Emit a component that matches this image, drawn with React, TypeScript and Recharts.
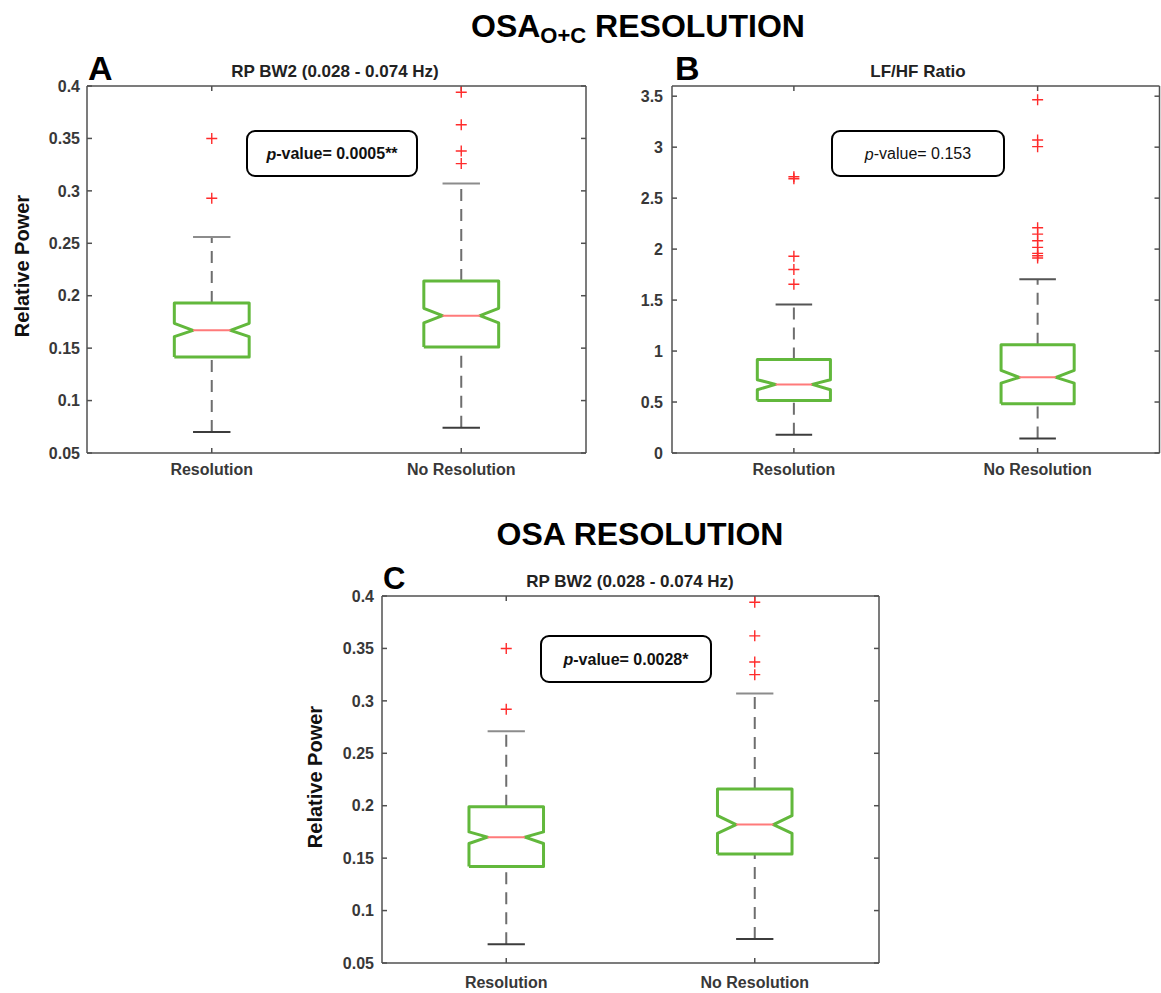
import React from 'react';
import { ComposedChart, Line, Scatter, XAxis, YAxis } from 'recharts';

const categories = ['Resolution', 'No Resolution'];

// A: OSA O+C, RP BW2
const aLow = [0.07, 0.074];
const aQ1 = [0.1415, 0.151];
const aNotchLow = [0.161, 0.174];
const aMedian = [0.167, 0.181];
const aNotchHigh = [0.1737, 0.188];
const aQ3 = [0.193, 0.214];
const aHigh = [0.256, 0.307];
const aOutliers = [
  [0.35, 0.293],
  [0.394, 0.363, 0.338, 0.326],
];

// B: OSA O+C, LF/HF ratio
const bLow = [0.18, 0.142];
const bQ1 = [0.516, 0.484];
const bNotchLow = [0.621, 0.686];
const bMedian = [0.673, 0.742];
const bNotchHigh = [0.719, 0.81];
const bQ3 = [0.918, 1.062];
const bHigh = [1.456, 1.704];
const bOutliers = [
  [2.71, 2.69, 1.93, 1.8, 1.655],
  [3.465, 3.07, 3.005, 2.21, 2.147, 2.082, 2.017, 1.958, 1.935, 1.913],
];

// C: OSA, RP BW2
const cLow = [0.068, 0.073];
const cQ1 = [0.142, 0.154];
const cNotchLow = [0.164, 0.1737];
const cMedian = [0.17, 0.182];
const cNotchHigh = [0.175, 0.1905];
const cQ3 = [0.199, 0.216];
const cHigh = [0.271, 0.307];
const cOutliers = [
  [0.35, 0.292],
  [0.394, 0.362, 0.337, 0.325],
];

const rpTicks = [0.05, 0.1, 0.15, 0.2, 0.25, 0.3, 0.35, 0.4];
const ratioTicks = [0, 0.5, 1, 1.5, 2, 2.5, 3, 3.5];

type Stats = {
  lo: number[];
  q1: number[];
  nLo: number[];
  med: number[];
  nHi: number[];
  q3: number[];
  hi: number[];
  out: number[][];
};

const BOX_W = 0.15;
const NOTCH_W = 0.075;
const CAP_W = 0.075;
const FONT = '"Liberation Sans", Arial, Helvetica, sans-serif';
const FRAME = { stroke: '#505050', strokeWidth: 1.5 };
const TICK = { fill: '#383838', fontSize: 16, fontWeight: 700, fontFamily: FONT };

const pts = (arr: number[][]) => arr.map(([x, y]) => ({ x, y }));

function buildBoxes(s: Stats) {
  return categories.map((_, i) => {
    const c = i + 1;
    return {
      outline: pts([
        [c - BOX_W, s.q1[i]],
        [c + BOX_W, s.q1[i]],
        [c + BOX_W, s.nLo[i]],
        [c + NOTCH_W, s.med[i]],
        [c + BOX_W, s.nHi[i]],
        [c + BOX_W, s.q3[i]],
        [c - BOX_W, s.q3[i]],
        [c - BOX_W, s.nHi[i]],
        [c - NOTCH_W, s.med[i]],
        [c - BOX_W, s.nLo[i]],
        [c - BOX_W, s.q1[i]],
      ]),
      median: pts([
        [c - NOTCH_W, s.med[i]],
        [c + NOTCH_W, s.med[i]],
      ]),
      upper: pts([
        [c, s.q3[i]],
        [c, s.hi[i]],
      ]),
      lower: pts([
        [c, s.lo[i]],
        [c, s.q1[i]],
      ]),
      upperCap: pts([
        [c - CAP_W, s.hi[i]],
        [c + CAP_W, s.hi[i]],
      ]),
      lowerCap: pts([
        [c - CAP_W, s.lo[i]],
        [c + CAP_W, s.lo[i]],
      ]),
    };
  });
}

const Plus = (props: any) => {
  const { cx, cy } = props;
  if (cx == null || cy == null) return null;
  const r = 5.5;
  return (
    <path
      d={`M${cx - r},${cy}H${cx + r}M${cx},${cy - r}V${cy + r}`}
      stroke="#ff2b2b"
      strokeWidth={1.4}
      fill="none"
    />
  );
};

const NoLabel = () => <g />;

type PanelProps = {
  s: Stats;
  yDomain: [number, number];
  yTicks: number[];
  width: number;
  height: number;
  margin: { top: number; right: number; bottom: number; left: number };
  yGap: number;
  xGap: number;
  upperCapColor: string;
};

function Panel({ s, yDomain, yTicks, width, height, margin, yGap, xGap, upperCapColor }: PanelProps) {
  const boxes = buildBoxes(s);
  const outliers = s.out.flatMap((vals, i) => vals.map((y) => ({ x: i + 1, y })));
  const line = (key: string, data: any[], stroke: string, w: number, dash?: string) => (
    <Line
      key={key}
      data={data}
      dataKey="y"
      type="linear"
      stroke={stroke}
      strokeWidth={w}
      strokeDasharray={dash}
      strokeLinejoin="round"
      dot={false}
      activeDot={false}
      isAnimationActive={false}
    />
  );
  return (
    <ComposedChart width={width} height={height} margin={margin}>
      <XAxis
        type="number"
        dataKey="x"
        domain={[0.5, 2.5]}
        ticks={[1, 2]}
        interval={0}
        tickFormatter={(v: number) => categories[v - 1]}
        height={30}
        tickSize={-5}
        tickMargin={xGap}
        axisLine={FRAME}
        tickLine={FRAME}
        tick={TICK}
      />
      <XAxis
        xAxisId="top"
        orientation="top"
        type="number"
        dataKey="x"
        domain={[0.5, 2.5]}
        ticks={[1, 2]}
        interval={0}
        height={1}
        tickSize={-5}
        axisLine={FRAME}
        tickLine={FRAME}
        tick={NoLabel}
      />
      <YAxis
        type="number"
        dataKey="y"
        domain={yDomain}
        ticks={yTicks}
        interval={0}
        width={60}
        tickSize={-5}
        tickMargin={yGap}
        axisLine={FRAME}
        tickLine={FRAME}
        tick={TICK}
      />
      <YAxis
        yAxisId="right"
        orientation="right"
        type="number"
        dataKey="y"
        domain={yDomain}
        ticks={yTicks}
        interval={0}
        width={1}
        tickSize={-5}
        axisLine={FRAME}
        tickLine={FRAME}
        tick={NoLabel}
      />
      {boxes.map((b, i) => line(`up${i}`, b.upper, '#6e6e6e', 2, '12 8'))}
      {boxes.map((b, i) => line(`lo${i}`, b.lower, '#6e6e6e', 2, '12 8'))}
      {boxes.map((b, i) => line(`uc${i}`, b.upperCap, upperCapColor, 2))}
      {boxes.map((b, i) => line(`lc${i}`, b.lowerCap, '#3c3c3c', 2))}
      {boxes.map((b, i) => line(`box${i}`, b.outline, '#62b83c', 3))}
      {boxes.map((b, i) => line(`med${i}`, b.median, '#ff7a7a', 2))}
      <Scatter
        xAxisId="top"
        yAxisId="right"
        data={outliers}
        dataKey="y"
        shape={Plus}
        isAnimationActive={false}
      />
    </ComposedChart>
  );
}

const statsA: Stats = { lo: aLow, q1: aQ1, nLo: aNotchLow, med: aMedian, nHi: aNotchHigh, q3: aQ3, hi: aHigh, out: aOutliers };
const statsB: Stats = { lo: bLow, q1: bQ1, nLo: bNotchLow, med: bMedian, nHi: bNotchHigh, q3: bQ3, hi: bHigh, out: bOutliers };
const statsC: Stats = { lo: cLow, q1: cQ1, nLo: cNotchLow, med: cMedian, nHi: cNotchHigh, q3: cQ3, hi: cHigh, out: cOutliers };

const PBox = ({ x, y, w, h, bold, stars, value }: any) => (
  <g>
    <rect x={x} y={y} width={w} height={h} rx={8} fill="#fff" stroke="#000" strokeWidth={2} />
    <text
      x={x + w / 2}
      y={y + h / 2}
      textAnchor="middle"
      dominantBaseline="central"
      fontSize={16}
      fontWeight={bold ? 700 : 400}
      fontFamily={FONT}
      fill="#111"
    >
      <tspan fontStyle="italic">p</tspan>
      {`-value= ${value}${stars}`}
    </text>
  </g>
);

export default function App() {
  return (
    <div style={{ position: 'absolute', left: 0, top: 0, width: 1161, height: 993, background: '#fff', overflow: 'hidden' }}>
      <div style={{ position: 'absolute', left: 0, top: 0 }}>
        <Panel
          s={statsA}
          yDomain={[0.05, 0.4]}
          yTicks={rpTicks}
          width={600}
          height={490}
          margin={{ top: 85, right: 13, bottom: 7, left: 27 }}
          yGap={12}
          xGap={16}
          upperCapColor="#8c8c8c"
        />
      </div>
      <div style={{ position: 'absolute', left: 590, top: 0 }}>
        <Panel
          s={statsB}
          yDomain={[0, 3.6]}
          yTicks={ratioTicks}
          width={571}
          height={490}
          margin={{ top: 85, right: 0.5, bottom: 7, left: 22 }}
          yGap={14}
          xGap={16}
          upperCapColor="#555"
        />
      </div>
      <div style={{ position: 'absolute', left: 290, top: 510 }}>
        <Panel
          s={statsC}
          yDomain={[0.05, 0.4]}
          yTicks={rpTicks}
          width={600}
          height={483}
          margin={{ top: 85, right: 10, bottom: 0, left: 32 }}
          yGap={13}
          xGap={19}
          upperCapColor="#8c8c8c"
        />
      </div>
      <svg
        width={1161}
        height={993}
        style={{ position: 'absolute', left: 0, top: 0, pointerEvents: 'none' }}
        fontFamily={FONT}
      >
        <text x={471} y={37} fontSize={32} fontWeight={700} fill="#000">
          OSA
          <tspan fontSize={22} dy={6}>O+C</tspan>
          <tspan fontSize={32} dy={-6}> RESOLUTION</tspan>
        </text>
        <text x={640} y={545} fontSize={32} fontWeight={700} fill="#000" textAnchor="middle">
          OSA RESOLUTION
        </text>

        <text x={88} y={80} fontSize={34} fontWeight={700} fill="#000">A</text>
        <text x={675} y={80} fontSize={34} fontWeight={700} fill="#000">B</text>
        <text x={383} y={589} fontSize={31} fontWeight={700} fill="#000">C</text>

        <text x={335} y={77} fontSize={17} fontWeight={700} fill="#222" textAnchor="middle">
          RP BW2 (0.028 - 0.074 Hz)
        </text>
        <text x={918} y={77} fontSize={17} fontWeight={700} fill="#222" textAnchor="middle">
          LF/HF Ratio
        </text>
        <text x={630} y={587} fontSize={17} fontWeight={700} fill="#222" textAnchor="middle">
          RP BW2 (0.028 - 0.074 Hz)
        </text>

        <text
          transform="translate(22,266) rotate(-90)"
          textAnchor="middle"
          dominantBaseline="central"
          fontSize={20}
          fontWeight={700}
          fill="#111"
        >
          Relative Power
        </text>
        <text
          transform="translate(315,777) rotate(-90)"
          textAnchor="middle"
          dominantBaseline="central"
          fontSize={20}
          fontWeight={700}
          fill="#111"
        >
          Relative Power
        </text>

        <PBox x={247} y={131} w={170} h={45} bold value="0.0005" stars="**" />
        <PBox x={832} y={131} w={172} h={45} bold={false} value="0.153" stars="" />
        <PBox x={541} y={636} w={170} h={46} bold value="0.0028" stars="*" />
      </svg>
    </div>
  );
}
